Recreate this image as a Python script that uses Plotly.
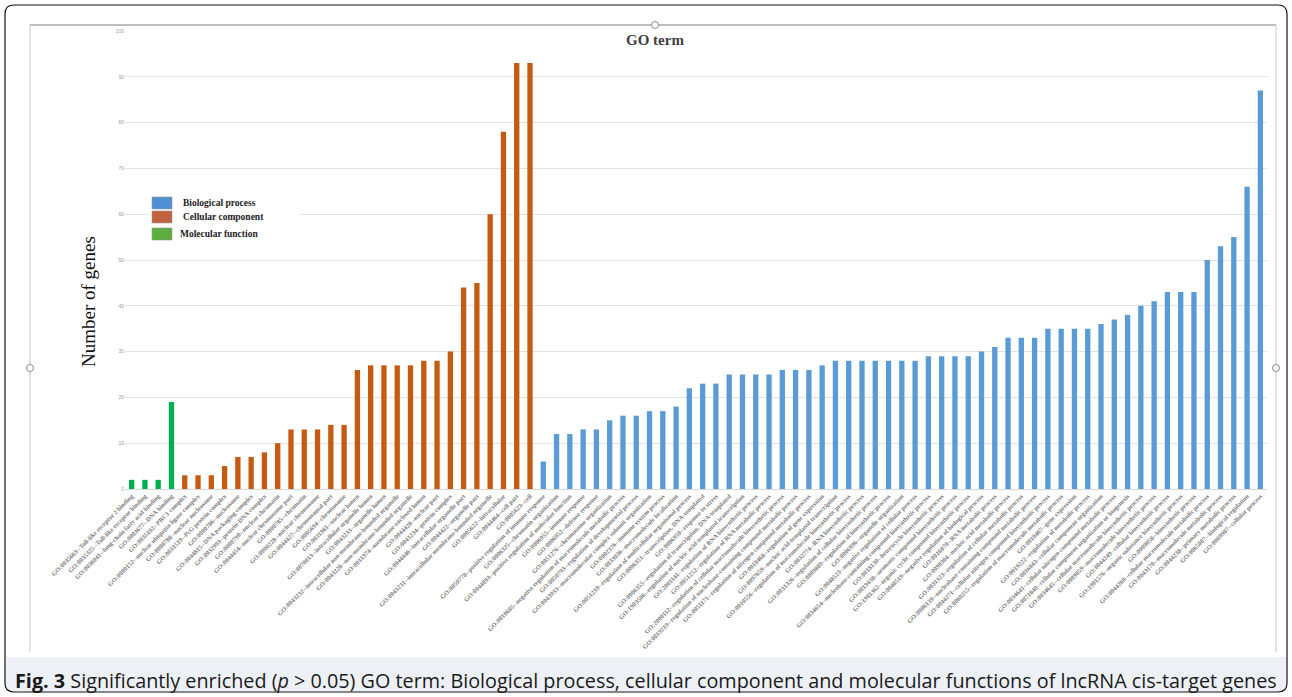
import plotly.graph_objects as go

# ---- GO terms and gene counts -------------------------------------------
mf_terms = [
    "GO:0035663--Toll-like receptor 2 binding",
    "GO:0035325--Toll-like receptor binding",
    "GO:0036041--long-chain fatty acid binding",
    "GO:0003677--DNA binding",
]
mf_counts = [2, 2, 2, 19]

cc_terms = [
    "GO:0035102--PRC1 complex",
    "GO:0000152--nuclear ubiquitin ligase complex",
    "GO:0000788--nuclear nucleosome",
    "GO:0031519--PcG protein complex",
    "GO:0000786--nucleosome",
    "GO:0044815--DNA packaging complex",
    "GO:0032993--protein-DNA complex",
    "GO:0000790--nuclear chromatin",
    "GO:0044454--nuclear chromosome part",
    "GO:0000785--chromatin",
    "GO:0000228--nuclear chromosome",
    "GO:0044427--chromosomal part",
    "GO:0005694--chromosome",
    "GO:0031981--nuclear lumen",
    "GO:0070013--intracellular organelle lumen",
    "GO:0043233--organelle lumen",
    "GO:0043232--intracellular non-membrane-bounded organelle",
    "GO:0043228--non-membrane-bounded organelle",
    "GO:0031974--membrane-enclosed lumen",
    "GO:0044428--nuclear part",
    "GO:0043234--protein complex",
    "GO:0044446--intracellular organelle part",
    "GO:0044422--organelle part",
    "GO:0043231--intracellular membrane-bounded organelle",
    "GO:0005622--intracellular",
    "GO:0044464--cell part",
    "GO:0005623--cell",
]
cc_counts = [3, 3, 3, 5, 7, 7, 8, 10, 13, 13, 13, 14, 14, 26, 27, 27, 27, 27,
             28, 28, 30, 44, 45, 60, 78, 93, 93]

bp_terms = [
    "GO:0050778--positive regulation of immune response",
    "GO:0006325--chromatin organization",
    "GO:0044093--positive regulation of molecular function",
    "GO:0006955--immune response",
    "GO:0006952--defense response",
    "GO:0051276--chromosome organization",
    "GO:0010605--negative regulation of macromolecule metabolic process",
    "GO:0050793--regulation of developmental process",
    "GO:0043933--macromolecular complex subunit organization",
    "GO:0002376--immune system process",
    "GO:0033036--macromolecule localization",
    "GO:0051239--regulation of multicellular organismal process",
    "GO:0006351--transcription, DNA-templated",
    "GO:0006950--response to stress",
    "GO:0006355--regulation of transcription, DNA-templated",
    "GO:1903506--regulation of nucleic acid-templated transcription",
    "GO:2001141--regulation of RNA biosynthetic process",
    "GO:0051252--regulation of RNA metabolic process",
    "GO:2000112--regulation of cellular macromolecule biosynthetic process",
    "GO:0019219--regulation of nucleobase-containing compound metabolic process",
    "GO:0051171--regulation of nitrogen compound metabolic process",
    "GO:0010468--regulation of gene expression",
    "GO:0097659--nucleic acid-templated transcription",
    "GO:0010556--regulation of macromolecule biosynthetic process",
    "GO:0032774--RNA biosynthetic process",
    "GO:0031326--regulation of cellular biosynthetic process",
    "GO:0009889--regulation of biosynthetic process",
    "GO:0006996--organelle organization",
    "GO:0048523--negative regulation of cellular process",
    "GO:0034654--nucleobase-containing compound biosynthetic process",
    "GO:0018130--heterocycle biosynthetic process",
    "GO:0019438--aromatic compound biosynthetic process",
    "GO:1901362--organic cyclic compound biosynthetic process",
    "GO:0048519--negative regulation of biological process",
    "GO:0016070--RNA metabolic process",
    "GO:0090304--nucleic acid metabolic process",
    "GO:0031323--regulation of cellular metabolic process",
    "GO:0006139--nucleobase-containing compound metabolic process",
    "GO:0044271--cellular nitrogen compound biosynthetic process",
    "GO:0060255--regulation of macromolecule metabolic process",
    "GO:0010467--gene expression",
    "GO:0019222--regulation of metabolic process",
    "GO:0016043--cellular component organization",
    "GO:0034641--cellular nitrogen compound metabolic process",
    "GO:0071840--cellular component organization or biogenesis",
    "GO:0034645--cellular macromolecule biosynthetic process",
    "GO:0009059--macromolecule biosynthetic process",
    "GO:0044249--cellular biosynthetic process",
    "GO:1901576--organic substance biosynthetic process",
    "GO:0009058--biosynthetic process",
    "GO:0044260--cellular macromolecule metabolic process",
    "GO:0043170--macromolecule metabolic process",
    "GO:0044238--primary metabolic process",
    "GO:0065007--biological regulation",
    "GO:0009987--cellular process",
]
bp_counts = [6, 12, 12, 13, 13, 15, 16, 16, 17, 17, 18, 22, 23, 23, 25, 25, 25,
             25, 26, 26, 26, 27, 28, 28, 28, 28, 28, 28, 28, 29, 29, 29, 29, 30,
             31, 33, 33, 33, 35, 35, 35, 35, 36, 37, 38, 40, 41, 43, 43, 43, 50,
             53, 55, 66, 87]

y_ticks = list(range(0, 101, 10))

# ---- colours -------------------------------------------------------------
C_BP, C_CC, C_MF = "#5B9BD5", "#C55A11", "#00B050"
L_BP, L_CC, L_MF = "#4F8FD3", "#C0623F", "#5BAE3D"

# ---- page geometry (pixels) ----------------------------------------------
W, H = 1292, 697
ML, MR, MT, MB = 125, 25, 31, 208
PW, PH = W - ML - MR, H - MT - MB


def px(x):
    return (x - ML) / PW


def py(y):
    return (H - MB - y) / PH


categories = mf_terms + cc_terms + bp_terms

fig = go.Figure()
for terms, counts, col in ((mf_terms, mf_counts, C_MF),
                           (cc_terms, cc_counts, C_CC),
                           (bp_terms, bp_counts, C_BP)):
    fig.add_trace(go.Bar(x=terms, y=counts, marker_color=col,
                         marker_line_width=0, showlegend=False))

fig.update_layout(
    width=W, height=H,
    margin=dict(l=ML, r=MR, t=MT, b=MB, autoexpand=False),
    paper_bgcolor="white", plot_bgcolor="white",
    barmode="overlay", bargap=0.6,
    xaxis=dict(categoryorder="array", categoryarray=categories,
               range=[-0.5, len(categories) - 0.5],
               tickangle=-45, automargin=False, showgrid=False,
               showline=True, linecolor="#d9d9d9", linewidth=1,
               ticks="", ticklen=0,
               tickfont=dict(family="Liberation Serif", size=6.4,
                             color="#7a7a7a", weight="bold")),
    yaxis=dict(range=[0, 100], tickvals=y_ticks, automargin=False,
               showgrid=True, gridcolor="#e3e3e3", gridwidth=1,
               zeroline=False, showline=False, ticks="",
               tickfont=dict(family="Liberation Sans", size=5, color="#9a9a9a")),
    font=dict(family="Liberation Serif"),
)

shapes = []
annotations = []

# outer rounded frame
x0, y0, x1, y1, r = 5, 5, 1287, 692, 9
path = (f"M {px(x0 + r)},{py(y0)} L {px(x1 - r)},{py(y0)} "
        f"Q {px(x1)},{py(y0)} {px(x1)},{py(y0 + r)} "
        f"L {px(x1)},{py(y1 - r)} Q {px(x1)},{py(y1)} {px(x1 - r)},{py(y1)} "
        f"L {px(x0 + r)},{py(y1)} Q {px(x0)},{py(y1)} {px(x0)},{py(y1 - r)} "
        f"L {px(x0)},{py(y0 + r)} Q {px(x0)},{py(y0)} {px(x0 + r)},{py(y0)} Z")

# caption band
shapes.append(dict(type="rect", xref="paper", yref="paper", layer="below",
                   x0=px(6), x1=px(1286), y0=py(657), y1=py(691),
                   fillcolor="#edf1f6", line_width=0))
shapes.append(dict(type="path", xref="paper", yref="paper", path=path,
                   line=dict(color="#111111", width=1.2)))

# chart-area frame lines
shapes.append(dict(type="line", xref="paper", yref="paper",
                   x0=px(30), x1=px(1276), y0=py(25), y1=py(25),
                   line=dict(color="#a8a8a8", width=1.5)))
shapes.append(dict(type="line", xref="paper", yref="paper",
                   x0=px(30), x1=px(30), y0=py(25), y1=py(652),
                   line=dict(color="#c8c8c8", width=1)))
shapes.append(dict(type="line", xref="paper", yref="paper",
                   x0=px(1276), x1=px(1276), y0=py(25), y1=py(652),
                   line=dict(color="#c8c8c8", width=1)))

# resize handles on the chart frame
for hx, hy in ((655, 25), (30, 368), (1276, 368)):
    shapes.append(dict(type="circle", xref="paper", yref="paper",
                       x0=px(hx - 3.5), x1=px(hx + 3.5),
                       y0=py(hy - 3.5), y1=py(hy + 3.5),
                       fillcolor="white", line=dict(color="#8a8a8a", width=1)))

# legend
shapes.append(dict(type="rect", xref="paper", yref="paper", layer="above",
                   x0=px(148), x1=px(300), y0=py(193), y1=py(244),
                   fillcolor="white", line_width=0))
legend_items = [("Biological process", L_BP, 197, 181),
                ("Cellular component", L_CC, 211, 181),
                ("Molecular function", L_MF, 228, 178)]
for name, col, top, tx in legend_items:
    shapes.append(dict(type="rect", xref="paper", yref="paper", layer="above",
                       x0=px(152), x1=px(172), y0=py(top + 12), y1=py(top),
                       fillcolor=col, line=dict(color="#9a9a9a", width=0.6)))
    annotations.append(dict(xref="paper", yref="paper", x=px(tx), y=py(top + 6),
                            xanchor="left", yanchor="middle", showarrow=False,
                            text=name,
                            font=dict(family="Liberation Serif", size=9.5,
                                      color="#222222", weight="bold")))

# titles
annotations.append(dict(xref="paper", yref="paper", x=px(655), y=py(40),
                        xanchor="center", yanchor="middle", showarrow=False,
                        text="<b>GO term</b>",
                        font=dict(family="Liberation Serif", size=15,
                                  color="#404040")))
annotations.append(dict(xref="paper", yref="paper", x=px(88), y=py(302),
                        xanchor="center", yanchor="middle", showarrow=False,
                        textangle=-90, text="Number of genes",
                        font=dict(family="Liberation Serif", size=19,
                                  color="#111111")))

# caption
annotations.append(dict(
    xref="paper", yref="paper", x=px(13), y=py(680),
    xanchor="left", yanchor="middle", showarrow=False,
    text=("<b>Fig. 3</b> Significantly enriched (<i>p</i> &gt; 0.05) GO term: "
          "Biological process, cellular component and molecular functions of "
          "lncRNA cis-target genes"),
    font=dict(family="Open Sans", size=19.8, color="#1a1a1a")))

fig.update_layout(shapes=shapes, annotations=annotations)
fig.write_html("out.html")
